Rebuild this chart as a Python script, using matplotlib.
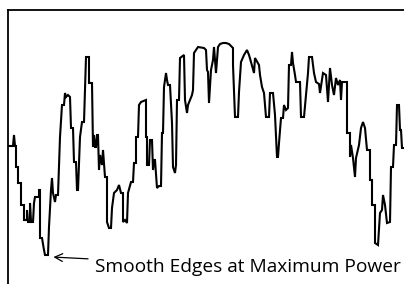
import matplotlib
matplotlib.use("Agg")
import matplotlib.pyplot as plt

# time steps and power readings
t = [0, 5, 6, 7, 8, 8, 10, 10, 13, 13, 16, 16, 19, 19, 20, 22, 22, 23, 25, 26, 27, 31, 31, 32, 32, 34, 36, 37, 40,
     41, 43, 44, 45, 47, 48, 50, 52, 54, 56, 57, 58, 60, 62, 63, 65, 66, 68, 69, 70, 72, 74, 76, 78, 81, 81, 84,
     85, 86, 87, 88, 89, 90, 91, 92, 94, 95, 97, 99, 99, 101, 103, 104, 106, 109, 111, 113, 115, 115, 117, 119,
     120, 123, 125, 126, 128, 128, 130, 131, 133, 138, 138, 139, 139, 141, 142, 144, 145, 146, 147, 149, 151, 153,
     154, 155, 156, 158, 159, 160, 162, 164, 165, 167, 168, 169, 171, 172, 176, 177, 179, 180, 182, 184, 185, 186,
     190, 196, 198, 199, 200, 201, 203, 205, 206, 208, 210, 212, 215, 218, 221, 223, 225, 225, 227, 230, 231, 233,
     236, 239, 241, 243, 246, 247, 251, 252, 254, 256, 258, 261, 262, 265, 267, 269, 270, 271, 273, 275, 276, 278,
     280, 281, 283, 284, 285, 287, 288, 292, 293, 296, 300, 301, 304, 306, 308, 311, 312, 315, 318, 320, 322, 324,
     326, 328, 330, 332, 333, 334, 339, 339, 342, 342, 343, 345, 347, 348, 351, 353, 355, 357, 359, 362, 362, 364,
     364, 367, 367, 370, 372, 374, 375, 377, 379, 382, 383, 385, 386, 388, 389, 391, 392, 393, 394, 396]
power = [138, 138, 149, 138, 138, 117, 117, 101, 101, 79, 79, 64, 64, 74, 62, 62, 81, 62, 62, 81, 87, 87, 94, 94, 46,
         46, 34, 29, 29, 57, 94, 106, 91, 82, 89, 89, 147, 179, 179, 191, 187, 189, 187, 156, 156, 122, 122, 94, 94,
         147, 162, 162, 227, 227, 201, 201, 137, 149, 137, 137, 149, 149, 114, 129, 119, 134, 107, 107, 62, 56, 56,
         76, 91, 94, 99, 91, 91, 62, 64, 61, 91, 102, 102, 121, 121, 147, 147, 179, 182, 184, 147, 147, 119, 119,
         144, 144, 114, 124, 124, 96, 98, 98, 151, 151, 197, 211, 204, 199, 199, 161, 117, 111, 119, 184, 184, 226,
         229, 184, 171, 179, 184, 189, 194, 231, 237, 236, 234, 214, 212, 181, 214, 224, 237, 211, 237, 240, 241,
         241, 240, 238, 236, 219, 167, 167, 192, 222, 229, 234, 229, 222, 211, 226, 219, 209, 197, 191, 167, 167,
         191, 191, 169, 127, 127, 141, 166, 166, 179, 174, 176, 219, 219, 232, 221, 209, 202, 202, 167, 167, 211,
         227, 227, 211, 202, 200, 191, 211, 209, 182, 216, 199, 189, 206, 199, 204, 184, 202, 202, 151, 151, 127,
         139, 126, 107, 126, 139, 156, 162, 156, 134, 134, 104, 104, 79, 79, 41, 39, 71, 74, 89, 79, 61, 62, 117,
         117, 139, 139, 179, 179, 154, 154, 136, 136]

note = "Smooth Edges at Maximum Power"
note_xy = (44, 27)
note_text_xy = (87, 17)

fig = plt.figure(figsize=(4.04, 2.84), dpi=100)
ax = fig.add_axes([8 / 404, 0, 396 / 404, 274 / 284])
ax.plot(t, power, color="black", lw=1.5, solid_joinstyle="miter")
ax.set_xlim(0, 396)
ax.set_ylim(0, 274)
ax.set_xticks([])
ax.set_yticks([])
ax.spines["right"].set_visible(False)
ax.spines["bottom"].set_visible(False)
for s in ["top", "left"]:
    ax.spines[s].set_linewidth(1.3)

ax.annotate(note, xy=note_xy, xytext=note_text_xy, fontsize=13.8, family="Open Sans",
            va="center", ha="left",
            arrowprops=dict(arrowstyle="->", color="black", lw=0.9, shrinkA=3, shrinkB=1,
                            mutation_scale=14))

fig.savefig("out.png", dpi=100)
